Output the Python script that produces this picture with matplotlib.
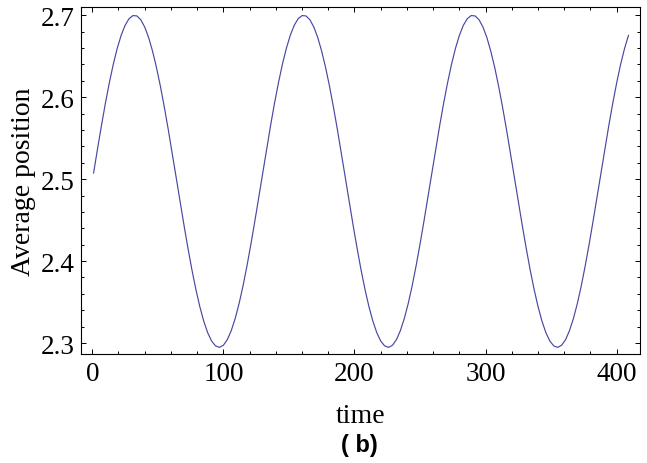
import numpy as np
import matplotlib
matplotlib.use("Agg")
import matplotlib.pyplot as plt
from matplotlib.ticker import MultipleLocator

time = [1, 4, 7, 10, 13, 16, 19, 22, 25, 28, 31, 34, 37, 40, 43, 46, 49, 52,
        55, 58, 61, 64, 67, 70, 73, 76, 79, 82, 85, 88, 91, 94, 97, 100, 103,
        106, 109, 112, 115, 118, 121, 124, 127, 130, 133, 136, 139, 142, 145,
        148, 151, 154, 157, 160, 163, 166, 169, 172, 175, 178, 181, 184, 187,
        190, 193, 196, 199, 202, 205, 208, 211, 214, 217, 220, 223, 226, 229,
        232, 235, 238, 241, 244, 247, 250, 253, 256, 259, 262, 265, 268, 271,
        274, 277, 280, 283, 286, 289, 292, 295, 298, 301, 304, 307, 310, 313,
        316, 319, 322, 325, 328, 331, 334, 337, 340, 343, 346, 349, 352, 355,
        358, 361, 364, 367, 370, 373, 376, 379, 382, 385, 388, 391, 394, 397,
        400, 403, 406, 409]
position = [2.5076, 2.5370, 2.5655, 2.5926, 2.6176, 2.6401, 2.6595, 2.6755,
            2.6877, 2.6958, 2.6997, 2.6993, 2.6946, 2.6857, 2.6728, 2.6561,
            2.6361, 2.6131, 2.5876, 2.5602, 2.5315, 2.5020, 2.4724, 2.4434,
            2.4156, 2.3894, 2.3656, 2.3446, 2.3268, 2.3127, 2.3025, 2.2965,
            2.2947, 2.2973, 2.3041, 2.3151, 2.3299, 2.3483, 2.3699, 2.3942,
            2.4207, 2.4488, 2.4780,
            2.5076, 2.5370, 2.5655, 2.5926, 2.6176, 2.6401, 2.6595, 2.6755,
            2.6877, 2.6958, 2.6997, 2.6993, 2.6946, 2.6857, 2.6728, 2.6561,
            2.6361, 2.6131, 2.5876, 2.5602, 2.5315, 2.5020, 2.4724, 2.4434,
            2.4156, 2.3894, 2.3656, 2.3446, 2.3268, 2.3127, 2.3025, 2.2965,
            2.2947, 2.2973, 2.3041, 2.3151, 2.3299, 2.3483, 2.3699, 2.3942,
            2.4207, 2.4488, 2.4780,
            2.5076, 2.5370, 2.5655, 2.5926, 2.6176, 2.6401, 2.6595, 2.6755,
            2.6877, 2.6958, 2.6997, 2.6993, 2.6946, 2.6857, 2.6728, 2.6561,
            2.6361, 2.6131, 2.5876, 2.5602, 2.5315, 2.5020, 2.4724, 2.4434,
            2.4156, 2.3894, 2.3656, 2.3446, 2.3268, 2.3127, 2.3025, 2.2965,
            2.2947, 2.2973, 2.3041, 2.3151, 2.3299, 2.3483, 2.3699, 2.3942,
            2.4207, 2.4488, 2.4780,
            2.5076, 2.5370, 2.5655, 2.5926, 2.6176, 2.6401, 2.6595, 2.6755]

plt.rcParams['font.family'] = ['Liberation Serif', 'DejaVu Serif']

fig = plt.figure(figsize=(6.47, 4.64), dpi=100)
ax = fig.add_axes([0.1252, 0.2349, 0.8640, 0.7472])

ax.plot(time, position, color='#4848a2', lw=0.85)

ax.set_xlim(-8.6, 417.8)
ax.set_ylim(2.2866, 2.7098)
ax.xaxis.set_major_locator(MultipleLocator(100))
ax.xaxis.set_minor_locator(MultipleLocator(20))
ax.yaxis.set_major_locator(MultipleLocator(0.1))
ax.yaxis.set_minor_locator(MultipleLocator(0.02))
ax.yaxis.set_major_formatter(plt.FuncFormatter(lambda v, p: '%.1f' % v))

ax.tick_params(which='both', direction='in', top=True, right=True,
               width=0.7, colors='black', labelsize=19.5)
ax.tick_params(which='major', length=3.4)
ax.tick_params(which='minor', length=2.2)
ax.tick_params(axis='x', pad=5)
ax.tick_params(axis='y', pad=4.3)
for s in ax.spines.values():
    s.set_linewidth(0.8)

ax.set_xlabel('time', fontsize=20, labelpad=12)
ax.set_ylabel('Average position', fontsize=20, labelpad=4)

fig.text(0.555, 0.039, '( b)', fontsize=17, fontweight='bold',
         family=['Liberation Sans', 'DejaVu Sans'], ha='center', va='center')

fig.savefig('out.png', dpi=100)
